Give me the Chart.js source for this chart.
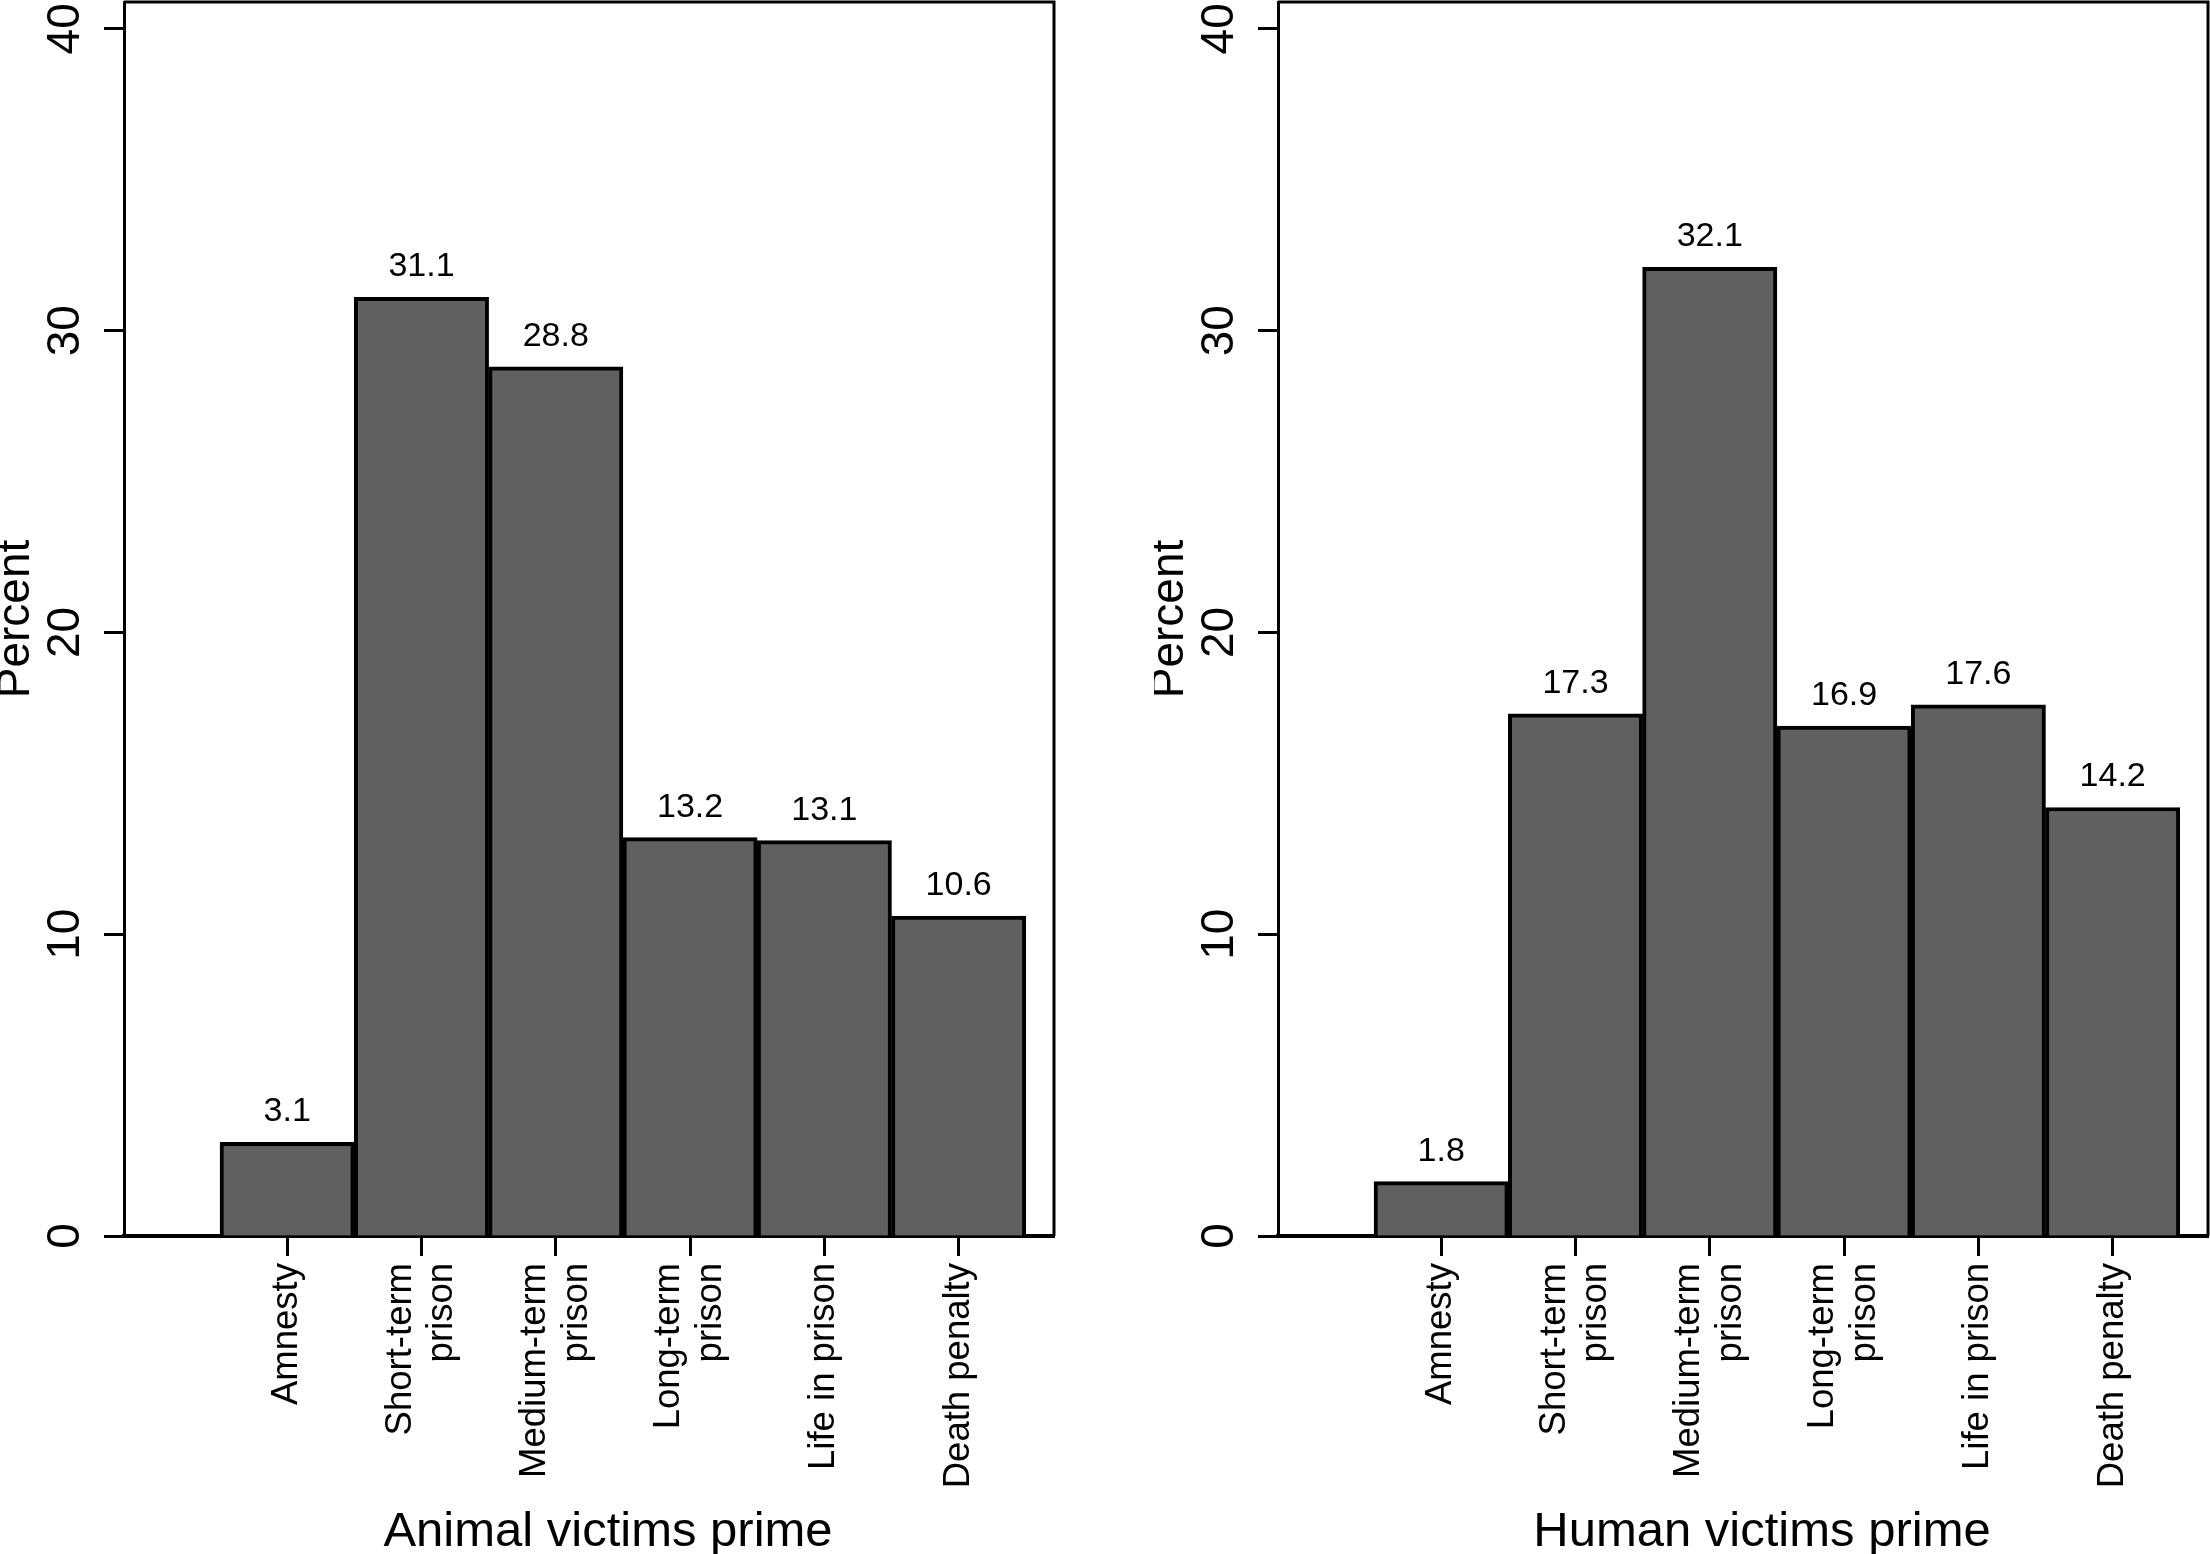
<!DOCTYPE html>
<html>
<head>
<meta charset="utf-8">
<script src="https://cdn.jsdelivr.net/npm/chart.js@4.4.1/dist/chart.umd.min.js"></script>
<style>
  html, body { margin: 0; padding: 0; background: #fff; }
  body { width: 2210px; height: 1554px; position: relative; overflow: hidden; }
  canvas { position: absolute; top: 0; }
  #animal-chart { left: 0; }
  #human-chart { left: 1154px; }
</style>
</head>
<body>
<canvas id="animal-chart" width="1056" height="1554"></canvas>
<canvas id="human-chart" width="1056" height="1554"></canvas>
<script>
// Sentence categories (each entry = the lines of its axis label)
const categories = [
  ['Amnesty'],
  ['Short-term', 'prison'],
  ['Medium-term', 'prison'],
  ['Long-term', 'prison'],
  ['Life in prison'],
  ['Death penalty']
];

// Percent choosing each sentence, per prime condition
const animalPercent = [3.1, 31.1, 28.8, 13.2, 13.1, 10.6];
const humanPercent = [1.8, 17.3, 32.1, 16.9, 17.6, 14.2];

// Y axis tick values
const yTicks = [0, 10, 20, 30, 40];

const FONT = '"Liberation Sans", Arial, Helvetica, sans-serif';
Chart.defaults.font.family = FONT;
Chart.defaults.color = '#000';

/**
 * Draw the top and right edges of the plot box
 */
const frameBox = {
  id: 'frameBox',
  afterDraw(chart) {
    const { ctx, chartArea: a } = chart;
    ctx.save();
    ctx.strokeStyle = '#000';
    ctx.lineWidth = 3;
    ctx.beginPath();
    ctx.moveTo(a.left, a.top);
    ctx.lineTo(a.right, a.top);
    ctx.lineTo(a.right, a.bottom);
    ctx.stroke();
    ctx.restore();
  }
};

/**
 * Value labels above each bar
 */
const barValues = {
  id: 'barValues',
  afterDatasetsDraw(chart) {
    const { ctx } = chart;
    const meta = chart.getDatasetMeta(0);
    const values = chart.data.datasets[0].data;
    ctx.save();
    ctx.font = '34px ' + FONT;
    ctx.fillStyle = '#000';
    ctx.textAlign = 'center';
    ctx.textBaseline = 'alphabetic';
    meta.data.forEach((bar, i) => {
      ctx.fillText(values[i].y.toFixed(1), bar.x, bar.y - 21);
    });
    ctx.restore();
  }
};

/**
 * Rotated category labels under the x ticks (multi-line blocks centred on the tick)
 * plus the x axis title, which sits a little right of the plot centre
 */
const categoryLabels = {
  id: 'categoryLabels',
  afterDraw(chart) {
    const { ctx, chartArea: a } = chart;
    const xScale = chart.scales.x;
    const lineGap = 41.5;
    ctx.save();
    ctx.font = '36.5px ' + FONT;
    ctx.fillStyle = '#000';
    ctx.textAlign = 'right';
    ctx.textBaseline = 'middle';
    categories.forEach((lines, i) => {
      const x = xScale.getPixelForValue(i + 1);
      lines.forEach((line, j) => {
        const dx = (j - (lines.length - 1) / 2) * lineGap;
        ctx.save();
        ctx.translate(x + dx, xScale.top + 27);
        ctx.rotate(-Math.PI / 2);
        ctx.fillText(line, 0, 0);
        ctx.restore();
      });
    });

    // x axis title
    ctx.font = '49px ' + FONT;
    ctx.textAlign = 'center';
    ctx.textBaseline = 'alphabetic';
    ctx.fillText(chart.options.xTitle, (a.left + a.right) / 2 + 19, 1546);
    ctx.restore();
  }
};

function makeChart(canvasId, values, title) {
  const ctx = document.getElementById(canvasId).getContext('2d');
  return new Chart(ctx, {
    type: 'bar',
    data: {
      datasets: [{
        data: values.map((v, i) => ({ x: i + 1, y: v })),
        backgroundColor: '#606060',
        borderColor: '#000',
        borderWidth: 4,
        barPercentage: 1,
        categoryPercentage: 1
      }]
    },
    options: {
      xTitle: title,
      responsive: false,
      animation: false,
      layout: { padding: { top: 2, right: 2, left: 0, bottom: 0 } },
      plugins: {
        legend: { display: false },
        tooltip: { enabled: false }
      },
      scales: {
        x: {
          type: 'linear',
          min: -0.215,
          max: 6.71,
          offset: false,
          z: 1,
          grid: {
            offset: false,
            drawOnChartArea: false,
            drawTicks: true,
            tickLength: 20,
            tickWidth: 3,
            tickColor: '#000'
          },
          border: { display: true, color: '#000', width: 4 },
          ticks: { display: false },
          afterBuildTicks: scale => {
            scale.ticks = categories.map((c, i) => ({ value: i + 1 }));
          },
          afterFit: scale => {
            scale.height = 318;
            scale.paddingLeft = 0;
            scale.paddingRight = 0;
          }
        },
        y: {
          min: 0,
          max: 40.89,
          z: 1,
          grid: {
            drawOnChartArea: false,
            drawTicks: true,
            tickLength: 20,
            tickWidth: 3,
            tickColor: '#000'
          },
          border: { display: true, color: '#000', width: 3 },
          afterBuildTicks: scale => {
            scale.ticks = yTicks.map(v => ({ value: v }));
          },
          afterFit: scale => {
            scale.width = 124;
            scale.paddingTop = 0;
            scale.paddingBottom = 0;
          },
          ticks: {
            font: { size: 46 },
            padding: 12,
            crossAlign: 'center',
            minRotation: 90,
            maxRotation: 90,
            color: '#000'
          },
          title: {
            display: true,
            text: 'Percent',
            font: { size: 46, lineHeight: 0.72 },
            padding: 0,
            color: '#000'
          }
        }
      }
    },
    plugins: [barValues, categoryLabels, frameBox]
  });
}

makeChart('animal-chart', animalPercent, 'Animal victims prime');
makeChart('human-chart', humanPercent, 'Human victims prime');
</script>
</body>
</html>
